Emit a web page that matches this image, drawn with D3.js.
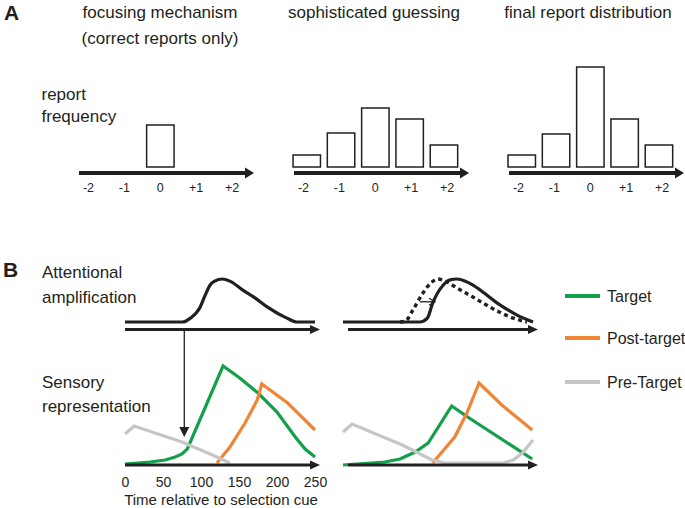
<!DOCTYPE html>
<html>
<head>
<meta charset="utf-8">
<script src="https://cdn.jsdelivr.net/npm/d3@7"></script>
<style>
  body { margin: 0; background: #fff; }
  text { font-family: "Liberation Sans", Arial, sans-serif; fill: #231f20; }
</style>
</head>
<body>
<div id="chart"></div>
<script>
// ---- panel A data: report frequency per offset
var offsets = ["-2", "-1", "0", "+1", "+2"];
var focusingFreq = [0, 0, 42, 0, 0];
var guessingFreq = [12, 34, 59, 48, 22];
var finalFreq = [12, 33, 100, 48, 22];
var panelTitles = [["focusing mechanism", "(correct reports only)"], ["sophisticated guessing"], ["final report distribution"]];

// ---- panel B data: time (ms) vs gain / response
var timeTicks = [0, 50, 100, 150, 200, 250];
var attentionLeft = [[0,0],[76,0],[86,0.09],[99,0.35],[105,0.6],[112,0.86],[118,0.95],[128,1],[138,0.95],[155,0.74],[171,0.56],[187,0.35],[213,0.09],[226,0],[250,0]];
var attentionRight = [[0,0],[101,0],[111,0.09],[118,0.44],[132,0.86],[141,0.98],[150,1],[161,0.95],[171,0.86],[203,0.44],[229,0.16],[250,0]];
var attentionEarly = [[75,0],[82,0.02],[92,0.28],[105,0.67],[117,0.93],[125,1],[137,0.93],[150,0.79],[171,0.58],[193,0.35],[224,0.09],[242,0]];

var targetLeft = [[0,1],[33,3],[53,5],[66,8],[75,11],[82,16],[129,99],[151,87],[175,72],[200,53],[224,28],[237,16],[250,8]];
var postLeft = [[121,2],[138,18],[158,42],[174,65],[180,81],[214,62],[250,35]];
var preLeft = [[0,31],[12,39],[75,23],[109,12],[138,2]];

var targetRight = [[0,0],[55,3],[75,6],[95,13],[112,22],[143,59],[164,48],[249,6]];
var postRight = [[118,2],[147,28],[163,52],[179,82],[209,60],[249,35]];
var preRight = [[0,33],[12,41],[78,20],[117,5],[134,2],[211,2],[224,5],[236,12],[250,25]];

var legendNames = ["Target", "Post-target", "Pre-Target"];
var legendColors = ["#14a04b", "#ef8535", "#c6c6c6"];

var ink = "#231f20";

var svg = d3.select("#chart").append("svg")
    .attr("width", 685)
    .attr("height", 508);

// arrow heads
var defs = svg.append("defs");
function head(id, len, wid, open) {
    var m = defs.append("marker")
        .attr("id", id)
        .attr("markerUnits", "userSpaceOnUse")
        .attr("markerWidth", len + 2)
        .attr("markerHeight", wid + 2)
        .attr("refX", open ? len : 0)
        .attr("refY", wid / 2 + 1)
        .attr("orient", "auto")
        .attr("overflow", "visible");
    var p = m.append("path")
        .attr("d", "M0,1 L" + len + "," + (wid / 2 + 1) + " L0," + (wid + 1) + (open ? "" : " Z"));
    if (open) p.attr("fill", "none").attr("stroke", ink).attr("stroke-width", 1.3);
    else p.attr("fill", ink);
}
head("headA", 9, 11, false);
head("headB", 10, 9, false);
head("headThin", 10, 10, false);
head("headOpen", 6, 7, true);

// ================= panel A =================
svg.append("text").attr("x", 4).attr("y", 20)
    .style("font-size", "21px").style("font-weight", "bold").text("A");

svg.append("text").attr("x", 41.5).attr("y", 100).style("font-size", "17px").text("report");
svg.append("text").attr("x", 41.5).attr("y", 122).style("font-size", "17px").text("frequency");

var freqY = d3.scaleLinear().domain([0, 100]).range([167, 67]);
var panelX0 = [79, 294, 509];
var panelCx = [160, 374, 588];
var panelVals = [focusingFreq, guessingFreq, finalFreq];

panelVals.forEach(function (vals, pi) {
    var x0 = panelX0[pi];
    var g = svg.append("g");

    var xb = d3.scaleBand().domain(offsets)
        .range([x0 - 4.4, x0 + 167.1])
        .paddingInner(0.2).paddingOuter(0.1);

    var rows = vals.map(function (v, i) { return {k: offsets[i], v: v}; })
        .filter(function (d) { return d.v > 0; });

    g.selectAll("rect").data(rows).enter().append("rect")
        .attr("x", d => xb(d.k))
        .attr("y", d => freqY(d.v))
        .attr("width", xb.bandwidth())
        .attr("height", d => freqY(0) - freqY(d.v))
        .attr("fill", "#fff")
        .attr("stroke", ink)
        .attr("stroke-width", 1.5);

    g.append("line")
        .attr("x1", x0).attr("x2", x0 + 166)
        .attr("y1", 173).attr("y2", 173)
        .attr("stroke", ink).attr("stroke-width", 4)
        .attr("marker-end", "url(#headA)");

    var xp = d3.scalePoint().domain(offsets).range([x0 + 9, x0 + 152.5]);
    var ax = g.append("g")
        .attr("transform", "translate(0,173)")
        .call(d3.axisBottom(xp).tickSize(0).tickPadding(10));
    ax.select(".domain").remove();
    ax.selectAll("text").style("font-size", "12.5px").style("font-family", "'Liberation Sans', Arial, sans-serif");

    panelTitles[pi].forEach(function (t, li) {
        g.append("text")
            .attr("x", panelCx[pi]).attr("y", 18 + li * 26)
            .attr("text-anchor", "middle")
            .style("font-size", "17px")
            .text(t);
    });
});

// ================= panel B =================
svg.append("text").attr("x", 3).attr("y", 277)
    .style("font-size", "21px").style("font-weight", "bold").text("B");

svg.append("text").attr("x", 42).attr("y", 278).style("font-size", "17px").text("Attentional");
svg.append("text").attr("x", 42).attr("y", 303).style("font-size", "17px").text("amplification");
svg.append("text").attr("x", 42).attr("y", 388).style("font-size", "17px").text("Sensory");
svg.append("text").attr("x", 42).attr("y", 412).style("font-size", "17px").text("representation");

var xL = d3.scaleLinear().domain([0, 250]).range([125, 315]);
var xR = d3.scaleLinear().domain([0, 250]).range([343, 533]);
var gainY = d3.scaleLinear().domain([0, 1]).range([322, 279]);
var sensY = d3.scaleLinear().domain([0, 100]).range([465, 365]);

function lineFor(x, y, curve) {
    return d3.line().x(d => x(d[0])).y(d => y(d[1])).curve(curve);
}

// attention curves
svg.append("path").datum(attentionLeft)
    .attr("d", lineFor(xL, gainY, d3.curveMonotoneX))
    .attr("fill", "none").attr("stroke", ink).attr("stroke-width", 3.2);
svg.append("path").datum(attentionRight)
    .attr("d", lineFor(xR, gainY, d3.curveMonotoneX))
    .attr("fill", "none").attr("stroke", ink).attr("stroke-width", 3.2);
svg.append("path").datum(attentionEarly)
    .attr("d", lineFor(xR, gainY, d3.curveMonotoneX))
    .attr("fill", "none").attr("stroke", ink).attr("stroke-width", 3.4)
    .attr("stroke-dasharray", "4,3.5");

// small shift arrow
svg.append("line")
    .attr("x1", xR(101)).attr("x2", xR(121))
    .attr("y1", gainY(0.47)).attr("y2", gainY(0.47))
    .attr("stroke", ink).attr("stroke-width", 1.3)
    .attr("marker-end", "url(#headOpen)");

// sensory curves
var sensLeft = [targetLeft, postLeft, preLeft];
var sensRight = [targetRight, postRight, preRight];
[[sensLeft, xL], [sensRight, xR]].forEach(function (pair) {
    pair[0].forEach(function (series, i) {
        svg.append("path").datum(series)
            .attr("d", lineFor(pair[1], sensY, d3.curveLinear))
            .attr("fill", "none")
            .attr("stroke", legendColors[i])
            .attr("stroke-width", 3.2)
            .attr("stroke-linejoin", "miter");
    });
});

// time axes (thick arrows)
[[xL, 0], [xR, 6.5]].forEach(function (a) {
    var x = a[0];
    [329.5, 465].forEach(function (yy) {
        svg.append("line")
            .attr("x1", x(a[1])).attr("x2", x(250) - 5)
            .attr("y1", yy).attr("y2", yy)
            .attr("stroke", ink).attr("stroke-width", 3)
            .attr("marker-end", "url(#headB)");
    });
});

// vertical link from attention to sensory
svg.append("line")
    .attr("x1", xL(78)).attr("x2", xL(78))
    .attr("y1", 331).attr("y2", sensY(28) - 10)
    .attr("stroke", ink).attr("stroke-width", 1.3)
    .attr("marker-end", "url(#headThin)");

// time tick labels
var tAx = svg.append("g")
    .attr("transform", "translate(0,465)")
    .call(d3.axisBottom(xL).tickValues(timeTicks).tickSize(0).tickPadding(12));
tAx.select(".domain").remove();
tAx.selectAll("text").style("font-size", "14px").style("font-family", "'Liberation Sans', Arial, sans-serif");

svg.append("text")
    .attr("x", 221).attr("y", 505)
    .attr("text-anchor", "middle")
    .style("font-size", "15px")
    .text("Time relative to selection cue");

// legend
var legY = [296, 338, 382];
legendNames.forEach(function (name, i) {
    svg.append("line")
        .attr("x1", 565).attr("x2", 600)
        .attr("y1", legY[i]).attr("y2", legY[i])
        .attr("stroke", legendColors[i]).attr("stroke-width", 4);
    svg.append("text")
        .attr("x", 607).attr("y", legY[i] + 6)
        .style("font-size", "16px")
        .text(name);
});
</script>
</body>
</html>
